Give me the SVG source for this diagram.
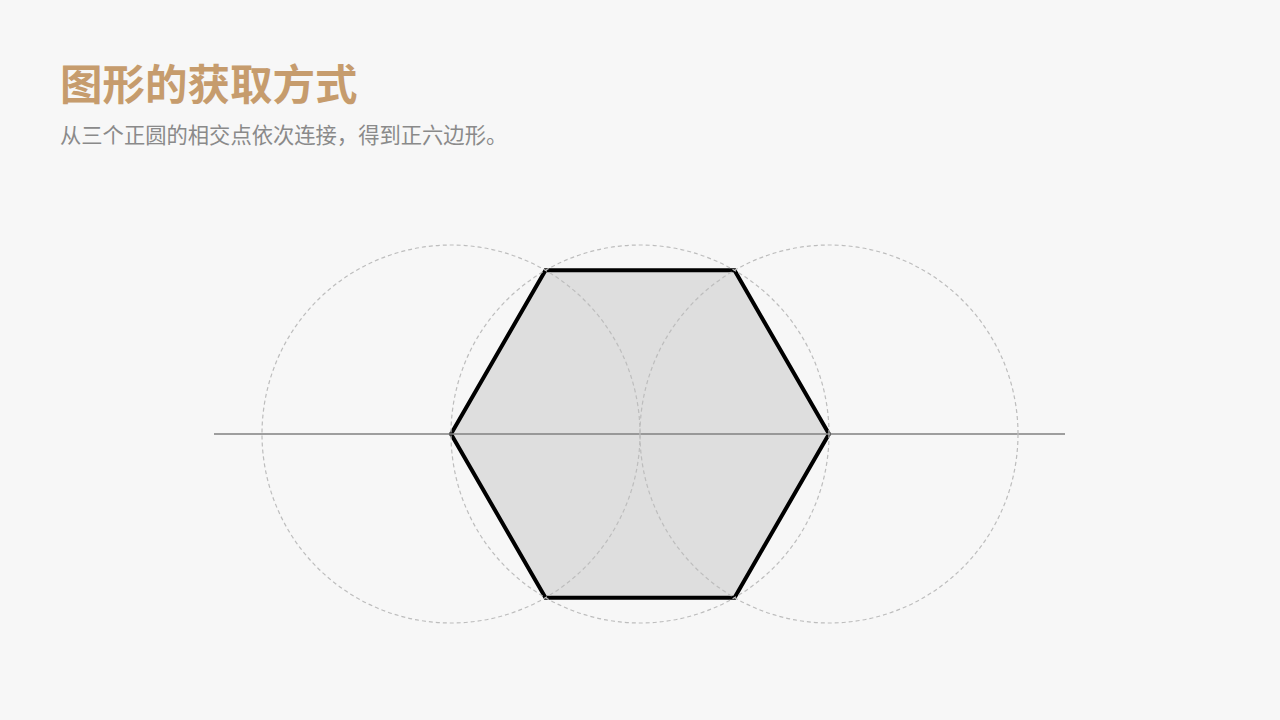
<svg xmlns="http://www.w3.org/2000/svg" width="1280" height="720" viewBox="0 0 1280 720">
<style>
.title{font-family:"Noto Sans CJK SC","Noto Sans",sans-serif;font-weight:bold;font-size:42.5px;fill:#c69c6d}
.sub{font-family:"Noto Sans CJK SC","Noto Sans",sans-serif;font-size:21.3px;fill:#8a8a8a}
.guide{fill:none;stroke:#bdbdbd;stroke-width:1.2;stroke-dasharray:4 3}
.axis{stroke:#808080;stroke-width:1.5}
.hex{fill:#dedede;stroke:#000;stroke-width:4;stroke-linejoin:miter}
</style>
<rect width="1280" height="720" fill="#f7f7f7"/>
<text class="title" x="60" y="100">图形的获取方式</text>
<text class="sub" x="60" y="143">从三个正圆的相交点依次连接，得到正六边形。</text>
<g id="hexagon">
<polygon class="hex" points="451,434 545.5,270.3 734.5,270.3 829,434 734.5,597.7 545.5,597.7"/>
</g>
<g id="connectors">
<line class="axis" x1="214" y1="434" x2="1065" y2="434"/>
</g>
<g id="circle-left"><circle class="guide" cx="451" cy="434" r="189"/></g>
<g id="circle-middle"><circle class="guide" cx="640" cy="434" r="189"/></g>
<g id="circle-right"><circle class="guide" cx="829" cy="434" r="189"/></g>
</svg>
